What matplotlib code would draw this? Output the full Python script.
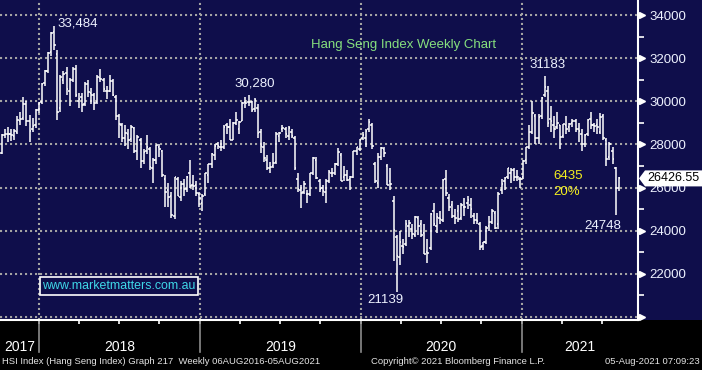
import matplotlib
matplotlib.use("Agg")
import matplotlib.pyplot as plt
import matplotlib.dates as mdates
import matplotlib.transforms as mtransforms
from matplotlib.patches import Rectangle, Polygon
import pandas as pd
import datetime as dt

# weekly bars, first week ending 6 Oct 2017, last week 6 Aug 2021
first_week = "2017-10-06"

opens = [
    # 2017
    27600, 28450, 28500, 28500, 28400, 28600, 29100, 29250, 29900, 29100, 28700, 28900, 29600,
    # 2018
    29950, 30850, 31400, 32300, 33200, 32200, 29700, 31000, 31300, 30500, 31000, 31500, 30000,
    30200, 29900, 30800, 30400, 30300, 29950, 31100, 31000, 30500, 30500, 30950, 30200, 29300,
    28900, 28300, 28500, 28250, 28750, 27700, 28200, 27250, 27700, 27800, 26900, 27300, 27900,
    27700, 26400, 25900, 25600, 24700, 26400, 25550, 26150, 25950, 26700, 26100, 26100, 25700,
    # 2019
    25300, 25700, 26600, 27100, 27500, 28000, 27900, 27900, 28900, 28800, 28200, 29000, 28700,
    29100, 29950, 29950, 29950, 29650, 29700, 28600, 27900, 27300, 26900, 27000, 27200, 28400,
    28700, 28700, 28400, 28600, 28300, 26400, 25900, 25800, 25700, 25700, 26700, 27300, 26300,
    26000, 25800, 26300, 26700, 26700, 27100, 27500, 26500, 26600, 26400, 26500, 27700, 27800,
    # 2020
    28300, 28300, 28700, 28900, 27100, 26200, 27400, 27800, 27000, 26300, 25400, 23700, 22800,
    23300, 23400, 24200, 24100, 23800, 24600, 24300, 23900, 23000, 23200, 24900, 24200, 24600,
    24500, 26400, 25500, 25200, 24700, 24900, 24600, 25100, 25300, 25200, 24700, 24500, 24300,
    23300, 23500, 24200, 24400, 24800, 24300, 25900, 26300, 26500, 26700, 26800, 26500, 26400,
    # 2021
    26500, 27300, 27900, 28600, 29300, 28300, 29300, 30300, 30500, 29200, 28900, 28800, 28900,
    28400, 28900, 28800, 29000, 29100, 28700, 28500, 28000, 28500, 29200, 28900, 28900, 28600,
    29300, 28200, 27400, 27700, 26900, 26000,
]
highs = [
    # 2017
    28500, 28700, 28800, 28700, 28700, 29300, 29500, 30200, 30000, 29350, 29250, 29650, 29950,
    # 2018
    30850, 31450, 32300, 33200, 33484, 32400, 31200, 31400, 31600, 31100, 31600, 31700, 30400,
    30400, 30900, 31000, 30600, 30400, 31200, 31500, 31100, 30700, 31200, 31050, 30300, 29400,
    29000, 28900, 28700, 28900, 28800, 28450, 28300, 27800, 28450, 27900, 27350, 27990, 28000,
    27750, 26600, 26200, 25800, 26500, 26500, 26300, 26400, 26550, 27260, 26600, 26300, 25800,
    # 2019
    25700, 26700, 27100, 27600, 28000, 28100, 28200, 28900, 29000, 29200, 29050, 29500, 29100,
    29950, 30200, 30280, 30000, 30150, 29900, 28700, 28100, 27500, 27200, 27600, 28600, 28600,
    28900, 28800, 28850, 28700, 28400, 26700, 26100, 26300, 25900, 26700, 27400, 27400, 26400,
    26100, 26400, 26800, 26900, 27150, 27850, 27600, 27000, 26800, 26550, 27700, 27900, 28250,
    # 2020
    28600, 28700, 29175, 29000, 27200, 27600, 27900, 27900, 27100, 26900, 25600, 23800, 24000,
    23600, 24500, 24500, 24300, 24700, 24700, 24500, 24300, 23600, 24800, 25300, 24800, 24900,
    26400, 26800, 25700, 25400, 25000, 25200, 25300, 25500, 25600, 25500, 24800, 24800, 24400,
    23500, 24200, 24700, 25000, 24900, 25800, 26400, 26500, 26900, 26900, 26900, 26800, 26500,
    # 2021
    27300, 27900, 28900, 30000, 29400, 29400, 30200, 31183, 30700, 29800, 29300, 29500, 28900,
    28950, 29300, 29000, 29200, 29200, 29000, 28700, 28500, 29200, 29500, 29000, 29200, 29450,
    29400, 28300, 28100, 27900, 26950, 26500,
]
lows = [
    # 2017
    27550, 28300, 28100, 28150, 28200, 28500, 28900, 29150, 28850, 28100, 28600, 28750, 29450,
    # 2018
    29900, 30700, 31300, 32100, 32400, 29129, 29500, 30800, 30300, 29800, 30900, 30200, 29700,
    29500, 29800, 30200, 29900, 29600, 29900, 30900, 30450, 30100, 30450, 30250, 29150, 28300,
    28100, 27950, 27800, 28100, 27600, 27300, 26900, 27100, 27550, 26800, 26219, 27100, 27400,
    26500, 25100, 25100, 24600, 24540, 25600, 25400, 25600, 25800, 26000, 25900, 25600, 25100,
    # 2019
    24896, 25600, 26200, 26900, 27300, 27800, 27700, 27800, 28500, 28200, 28200, 28900, 28500,
    29100, 29700, 29800, 29500, 29500, 28300, 27600, 27200, 26800, 26700, 26900, 27100, 28100,
    28600, 28300, 28200, 28300, 26800, 25800, 25064, 25700, 25300, 25600, 26600, 26400, 25800,
    25600, 25300, 26200, 26500, 26600, 27000, 26300, 26300, 26300, 25900, 26450, 27500, 27700,
    # 2020
    28200, 27900, 28600, 27800, 26200, 26000, 27300, 27400, 26100, 25900, 22600, 21139, 22400,
    22900, 23300, 23700, 23600, 23700, 23800, 23700, 22900, 22500, 23100, 24200, 23900, 24300,
    24400, 25600, 24900, 24600, 24300, 24400, 24500, 24700, 25000, 24600, 24300, 24300, 23124,
    23100, 23400, 24000, 24300, 24100, 24100, 25700, 25900, 26400, 26200, 26300, 26300, 26000,
    # 2021
    26400, 27100, 27800, 28500, 28000, 28000, 29200, 30200, 28800, 28600, 28300, 28700, 27800,
    28300, 28500, 28600, 28800, 28600, 28100, 27700, 27900, 28400, 28700, 28600, 28500, 28500,
    28200, 27000, 27300, 27100, 24748, 25850,
]
closes = [
    # 2017
    28458, 28476, 28487, 28439, 28603, 29120, 29199, 29866, 29074, 28640, 28848, 29578, 29919,
    # 2018
    30814, 31412, 32255, 33154, 32601, 29507, 31115, 31267, 30583, 30996, 31502, 30309, 30093,
    29844, 30808, 30418, 30281, 29927, 31122, 31048, 30588, 30492, 30958, 30309, 29338, 28955,
    28316, 28525, 28224, 28804, 27676, 28367, 27213, 27672, 27889, 26973, 27286, 27953, 27789,
    26573, 25801, 25561, 24717, 26486, 25601, 26184, 25928, 26507, 26063, 26094, 25753, 25504,
    # 2019
    25626, 26667, 27090, 27569, 27931, 27946, 27901, 28816, 28812, 28228, 29012, 29113, 29051,
    29936, 29909, 29963, 29605, 30081, 28550, 27946, 27354, 26901, 26965, 27118, 28473, 28543,
    28775, 28472, 28765, 28397, 26919, 25939, 25734, 26179, 25725, 26691, 27353, 26436, 25955,
    25821, 26308, 26720, 26667, 27101, 27651, 26327, 26596, 26346, 26498, 27688, 27871, 28225,
    # 2020
    28452, 28638, 29056, 27950, 26313, 27404, 27816, 27609, 26130, 26146, 24032, 22805, 23484,
    23236, 24300, 24380, 23831, 24644, 24230, 23797, 22930, 22961, 24770, 24301, 24644, 24549,
    26339, 25727, 25089, 24705, 24595, 24532, 25183, 25113, 25422, 25007, 24503, 24455, 23235,
    23459, 24119, 24387, 24919, 24107, 25712, 26157, 26451, 26894, 26835, 26506, 26498, 26387,
    # 2021
    27231, 27878, 28574, 29447, 28284, 29289, 30173, 30644, 28980, 29098, 28740, 29014, 28336,
    28939, 28699, 28969, 29079, 28725, 28610, 28027, 28459, 29124, 28918, 28842, 28801, 29288,
    28310, 27344, 28004, 27321, 25961, 26426,
]

last_price = "26426.55"
price_levels = [20000, 22000, 24000, 26000, 28000, 30000, 32000, 34000]
minor_levels = [21000, 23000, 25000, 27000, 29000, 31000, 33000]
years = [2017, 2018, 2019, 2020, 2021]

NAVY = "#0f0e4b"
GRID = "#a3a3a3"
plt.rcParams["font.family"] = ["Liberation Sans", "DejaVu Sans"]

W, H = 702, 370
fig = plt.figure(figsize=(W / 100, H / 100), dpi=100)
fig.patch.set_facecolor(NAVY)
fig.add_artist(Rectangle((0, 0), 1, 50 / H, transform=fig.transFigure,
                         facecolor="black", edgecolor="none", zorder=0))
ax = fig.add_axes([0, 50 / H, 638 / W, 320 / H])
ax.set_facecolor(NAVY)

dates = pd.date_range(first_week, periods=len(closes), freq="W-FRI")
x = mdates.date2num(dates) + 2.5

# x range: year gridlines land at 39 / 522 px
jan18 = mdates.date2num(dt.datetime(2018, 1, 1))
jan21 = mdates.date2num(dt.datetime(2021, 1, 1))
ppd = (522 - 39) / (jan21 - jan18)
x0 = jan18 - 39 / ppd
x1 = x0 + 638 / ppd
ax.set_xlim(x0, x1)
ax.set_ylim(19860, 34700)

# grid
for lv in price_levels:
    ax.axhline(lv, color=GRID, lw=1.5, ls=(0, (1, 1.4)), zorder=1)
year_starts = [mdates.date2num(dt.datetime(y, 1, 1)) for y in years[1:]]
for xs in year_starts:
    ax.axvline(xs, color=GRID, lw=1.5, ls=(0, (1, 1.4)), zorder=1)

# OHLC bars
tick = 3.6
ax.vlines(x, lows, highs, color="white", lw=1.1, zorder=3)
ax.hlines(opens, x - tick, x, color="white", lw=1.1, zorder=3)
ax.hlines(closes, x, x + tick, color="white", lw=1.1, zorder=3)

# spines
for s in ["top", "left"]:
    ax.spines[s].set_visible(False)
ax.spines["bottom"].set_color("white")
ax.spines["bottom"].set_linewidth(1.5)
ax.spines["right"].set_color("white")
ax.spines["right"].set_linewidth(1.5)

# right price axis
ax.yaxis.tick_right()
ax.set_yticks(price_levels)
ax.set_yticklabels([""] + [str(v) for v in price_levels[1:]])
ax.set_yticks(minor_levels, minor=True)
ax.tick_params(axis="y", which="major", length=0, pad=8, labelsize=9.5,
               labelcolor="#eef2ff")
ax.tick_params(axis="y", which="minor", length=4, width=1.2, color="white")
tri = mtransforms.blended_transform_factory(ax.transAxes, ax.transData)
ax.plot([1 + 4 / 638] * len(price_levels), price_levels, ls="none", marker=">",
        ms=5, color="white", transform=tri, clip_on=False, zorder=5)

# bottom axis: quarter ticks, year separators and labels
quarters = [mdates.date2num(dt.datetime(y, m, 1)) for y in years for m in (1, 4, 7, 10)]
quarters = [q for q in quarters if x0 < q < x1]
ax.set_xticks(quarters)
ax.set_xticklabels([])
ax.tick_params(axis="x", length=3, width=1.2, color="white")
ylow = mtransforms.blended_transform_factory(ax.transData, ax.transAxes)
for xs in year_starts:
    ax.plot([xs, xs], [0, -32 / 320], color="#8c8c8c", lw=1.2,
            transform=ylow, clip_on=False)
for y in years:
    a = max(mdates.date2num(dt.datetime(y, 1, 1)), x0)
    b = min(mdates.date2num(dt.datetime(y + 1, 1, 1)), x1)
    ax.text((a + b) / 2, -27 / 320, str(y), transform=ylow, ha="center",
            va="center", color="white", fontsize=10)

# annotations
def px(xp, yp):
    return xp / 638, 1 - yp / 320

lab = dict(transform=ax.transAxes, va="center", ha="left", fontsize=9.5)
ax.text(*px(57, 23), "33,484", color="#eef2ff", **lab)
ax.text(*px(234, 83), "30,280", color="#eef2ff", **lab)
ax.text(*px(529, 65), "31183", color="#eef2ff", **lab)
ax.text(*px(584, 226), "24748", color="#eef2ff", **lab)
ax.text(*px(367, 300), "21139", color="#eef2ff", **lab)
ax.text(*px(553, 176), "6435", color="#f4f01e", **lab)
ax.text(*px(553, 192), "20%", color="#f4f01e", **lab)
ax.text(*px(311, 45), "Hang Seng Index Weekly Chart", color="#86e07e", **lab)

ax.add_patch(Rectangle(px(40, 295), 158 / 638, 18 / 320, transform=ax.transAxes,
                       facecolor="none", edgecolor="white", lw=1.2, zorder=6))
ax.text(*px(119, 286), "www.marketmatters.com.au", transform=ax.transAxes,
        ha="center", va="center", fontsize=8.9, color="#3fd8e8", zorder=6)

# last price flag
ly = ax.transData.transform((0, 26426.55))[1]
fy = ly / H
pts = [(639 / W, fy), (645 / W, fy + 8 / H), (702 / W, fy + 8 / H),
       (702 / W, fy - 8 / H), (645 / W, fy - 8 / H)]
fig.add_artist(Polygon(pts, closed=True, transform=fig.transFigure,
                       facecolor="white", edgecolor="none", zorder=6))
fig.text(647 / W, fy, last_price, color="black", fontsize=9, va="center",
         ha="left", zorder=7)

# footer
foot = dict(color="#e4e4e4", fontsize=6.8, va="center")
fig.text(2 / W, 8 / H, "HSI Index (Hang Seng Index) Graph 217  Weekly 06AUG2016-05AUG2021",
         ha="left", **foot)
fig.text(371 / W, 8 / H, "Copyright\u00a9 2021 Bloomberg Finance L.P.", ha="left", **foot)
fig.text(700 / W, 8 / H, "05-Aug-2021 07:09:23", ha="right", **foot)

fig.savefig("out.png", dpi=100, facecolor=fig.get_facecolor())
